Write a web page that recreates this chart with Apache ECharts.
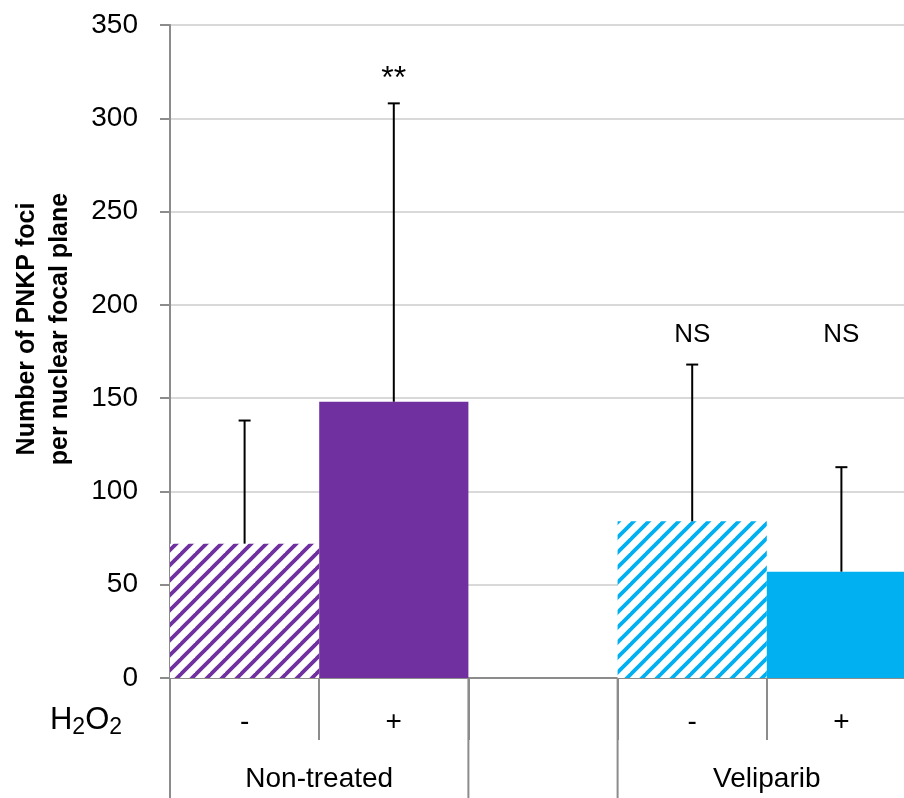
<!DOCTYPE html>
<html>
<head>
<meta charset="utf-8">
<script src="https://cdn.jsdelivr.net/npm/echarts@6/dist/echarts.min.js"></script>
<style>
html,body{margin:0;padding:0;background:#fff;}
#chart{width:904px;height:798px;}
</style>
</head>
<body>
<div id="chart"></div>
<script>
// ---- data ----
const categories = ['-', '+', '', '-', '+'];
const means = [72, 148, null, 84, 57];
const errorTops = [138, 308, null, 168, 113];
const significance = ['', '**', '', 'NS', 'NS'];
const significanceY = [null, 321, null, 184, 184];
const groupLabels = ['Non-treated', 'Veliparib'];
const groupFirst = [0, 3];
const groupLast = [1, 4];
const yMin = 0, yMax = 350, yInterval = 50;
const axisTitle = 'Number of PNKP foci\nper nuclear focal plane';

// ---- style ----
const PURPLE = '#7030A0', CYAN = '#00B0F0';
const barColors = [PURPLE, PURPLE, null, CYAN, CYAN];
const barHatched = [true, false, false, true, false];
const FONT = 'Liberation Sans, Arial, sans-serif';
const GRAY = '#8c8c8c';

function stripes(color) {
  const s = 15;
  const c = document.createElement('canvas');
  c.width = s; c.height = s;
  const ctx = c.getContext('2d');
  ctx.fillStyle = '#fff';
  ctx.fillRect(0, 0, s, s);
  ctx.strokeStyle = color;
  ctx.lineWidth = 3.8;
  // lines x + y = k
  [0, s, 2 * s].forEach(k => {
    ctx.beginPath();
    ctx.moveTo(k + 5, -5);
    ctx.lineTo(-5, k + 5);
    ctx.stroke();
  });
  return c;
}

const barData = means.map((v, i) => {
  if (v == null) return '-';
  return {
    value: v,
    itemStyle: {
      color: barHatched[i] ? { image: stripes(barColors[i]), repeat: 'repeat' } : barColors[i]
    }
  };
});

const errData = [];
means.forEach((v, i) => { if (v != null) errData.push([i, v, errorTops[i]]); });
const sigData = [];
significance.forEach((s, i) => { if (s) sigData.push([i, significanceY[i]]); });
const groupData = groupFirst.map((f, k) => [f, groupLast[k], 0]);

const chart = echarts.init(document.getElementById('chart'), null, { renderer: 'canvas' });
chart.setOption({
  animation: false,
  backgroundColor: '#fff',
  grid: { left: 170, top: 25, width: 746, bottom: 120, containLabel: false, outerBoundsMode: 'none' },
  xAxis: {
    type: 'category',
    data: categories,
    axisLine: { show: true, lineStyle: { color: GRAY, width: 2 } },
    axisTick: { show: true, interval: 0, length: 62, lineStyle: { color: GRAY, width: 2 } },
    axisLabel: { interval: 0, margin: 30, fontSize: 28, color: '#000', fontFamily: FONT },
    splitLine: { show: false }
  },
  yAxis: {
    type: 'value',
    min: yMin, max: yMax, interval: yInterval,
    axisLine: { show: true, lineStyle: { color: GRAY, width: 2 } },
    axisTick: { show: true, length: 10, lineStyle: { color: GRAY, width: 2 } },
    axisLabel: { margin: 32, fontSize: 28, color: '#000', fontFamily: FONT },
    splitLine: { show: true, lineStyle: { color: '#d9d9d9', width: 2 } }
  },
  graphic: [
    {
      type: 'text', x: 44, y: 329, rotation: Math.PI / 2,
      style: {
        text: axisTitle, fontSize: 25, fontWeight: 'bold', fontFamily: FONT,
        fill: '#000', align: 'center', verticalAlign: 'middle', lineHeight: 33
      }
    },
    {
      type: 'text', x: 86, y: 720,
      style: {
        text: 'H{s|2}O{s|2}',
        align: 'center', verticalAlign: 'middle',
        fontSize: 31, fontFamily: FONT, fill: '#000',
        rich: {
          s: { fontSize: 23, fontFamily: FONT, fill: '#000', padding: [16, 0, 0, 0] }
        }
      }
    }
  ],
  series: [
    {
      type: 'bar',
      data: barData,
      barWidth: '100%',
      barGap: '0%',
      z: 2
    },
    {
      type: 'custom',
      clip: false,
      z: 5,
      data: errData,
      encode: { x: 0, y: [1, 2] },
      renderItem: function (params, api) {
        const i = api.value(0);
        const p0 = api.coord([i, api.value(1)]);
        const p1 = api.coord([i, api.value(2)]);
        const st = { stroke: '#000', lineWidth: 2 };
        return {
          type: 'group',
          children: [
            { type: 'line', shape: { x1: p0[0], y1: p0[1], x2: p1[0], y2: p1[1] }, style: st },
            { type: 'line', shape: { x1: p1[0] - 6, y1: p1[1], x2: p1[0] + 6, y2: p1[1] }, style: st }
          ]
        };
      }
    },
    {
      type: 'custom',
      clip: false,
      z: 5,
      data: sigData,
      encode: { x: 0, y: 1 },
      renderItem: function (params, api) {
        const i = api.value(0);
        const p = api.coord([i, api.value(1)]);
        const label = significance[i];
        return {
          type: 'text',
          x: p[0], y: p[1],
          style: {
            text: label, fontSize: label === '**' ? 32 : 26, fontFamily: FONT, fill: '#000',
            align: 'center', verticalAlign: 'middle'
          }
        };
      }
    },
    {
      type: 'custom',
      clip: false,
      z: 5,
      data: groupData,
      encode: { x: [0, 1], y: 2 },
      renderItem: function (params, api) {
        const f = api.value(0), l = api.value(1);
        const bw = api.size([1, 0])[0];
        const pf = api.coord([f, 0]);
        const pl = api.coord([l, 0]);
        const xl = pf[0] - bw / 2, xr = pl[0] + bw / 2, y0 = pf[1];
        const st = { stroke: GRAY, lineWidth: 2 };
        return {
          type: 'group',
          children: [
            { type: 'line', shape: { x1: xl, y1: y0, x2: xl, y2: y0 + 125 }, style: st },
            { type: 'line', shape: { x1: xr, y1: y0, x2: xr, y2: y0 + 125 }, style: st },
            {
              type: 'text', x: (xl + xr) / 2, y: y0 + 101,
              style: {
                text: groupLabels[params.dataIndex], fontSize: 28, fontFamily: FONT,
                fill: '#000', align: 'center', verticalAlign: 'middle'
              }
            }
          ]
        };
      }
    }
  ]
});
</script>
</body>
</html>
